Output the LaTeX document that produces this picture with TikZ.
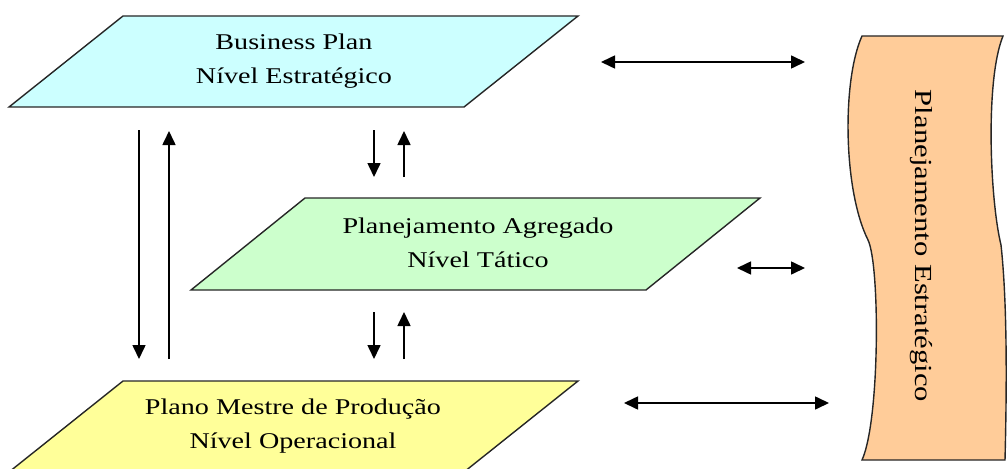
\documentclass[tikz,border=0pt]{standalone}
\usepackage{fontspec}
\setmainfont{Liberation Serif}[FakeStretch=1.25]
\usetikzlibrary{arrows.meta}
\definecolor{azulnivel}{RGB}{204,255,255}
\definecolor{verdenivel}{RGB}{204,255,204}
\definecolor{amarelonivel}{RGB}{255,255,153}
\definecolor{laranjafaixa}{RGB}{255,204,153}
\tikzset{
  nivel/.style={draw=black!85, line width=1.4pt, line join=miter},
  rotulo/.style={align=center, inner sep=0pt, font=\fontsize{22.5}{34}\selectfont},
  seta/.style={line width=1.6pt, -{Triangle[length=14pt,width=13pt]}},
  dupla/.style={line width=1.6pt, {Triangle[length=14pt,width=13pt]}-{Triangle[length=14pt,width=13pt]}},
}
\begin{document}
\begin{tikzpicture}[x=1pt,y=-1pt]
  \useasboundingbox (0,0) rectangle (1008,468);
  \clip (0,0) rectangle (1008,468);
  % niveis
  \filldraw[nivel, fill=azulnivel] (123,16) -- (578,16) -- (464,107) -- (9,107) -- cycle;
  \filldraw[nivel, fill=verdenivel] (305,198) -- (760,198) -- (646,290) -- (191,290) -- cycle;
  \filldraw[nivel, fill=amarelonivel] (123,381) -- (578,381) -- (464,472) -- (9,472) -- cycle;
  \node[rotulo] (bp) at (294,61) {Business Plan\\N\'ivel Estrat\'egico};
  \node[rotulo] (pa) at (478,243) {Planejamento Agregado\\N\'ivel T\'atico};
  \node[rotulo] (pm) at (293,426) {Plano Mestre de Produ\c{c}\~ao\\N\'ivel Operacional};
  % faixa lateral
  \filldraw[nivel, fill=laranjafaixa]
    (862,36) .. controls (842,80) and (843,190) .. (868,240)
    .. controls (880,265) and (880,420) .. (862,460)
    -- (1005,460) .. controls (1007,380) and (1007,300) .. (1001,245)
    .. controls (990,200) and (985,80) .. (1003,36) -- cycle;
  \node[rotulo, font=\fontsize{24.5}{30}\selectfont, rotate=-90] (pe) at (921,246) {Planejamento Estrat\'egico};
  % pontas das setas
  \coordinate (a1) at (139,130); \coordinate (a2) at (139,359);
  \coordinate (b1) at (169,359); \coordinate (b2) at (169,131);
  \coordinate (c1) at (374,130); \coordinate (c2) at (374,177);
  \coordinate (d1) at (404,177); \coordinate (d2) at (404,131);
  \coordinate (e1) at (374,312); \coordinate (e2) at (374,359);
  \coordinate (f1) at (404,359); \coordinate (f2) at (404,312);
  \coordinate (g1) at (601,62); \coordinate (g2) at (805,62);
  \coordinate (h1) at (737,268); \coordinate (h2) at (805,268);
  \coordinate (k1) at (624,403); \coordinate (k2) at (829,403);
  \draw[seta] (a1) -- (a2);
  \draw[seta] (b1) -- (b2);
  \draw[seta] (c1) -- (c2);
  \draw[seta] (d1) -- (d2);
  \draw[seta] (e1) -- (e2);
  \draw[seta] (f1) -- (f2);
  \draw[dupla] (g1) -- (g2);
  \draw[dupla] (h1) -- (h2);
  \draw[dupla] (k1) -- (k2);
\end{tikzpicture}
\end{document}
